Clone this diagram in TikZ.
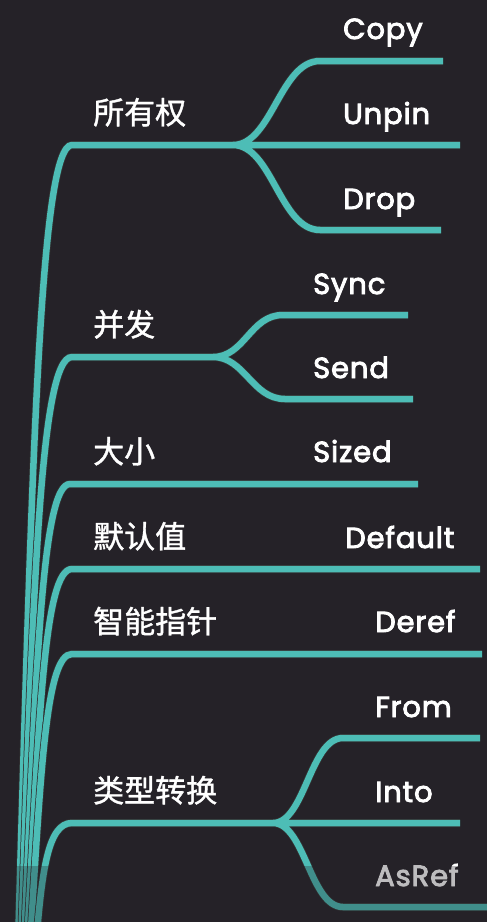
\documentclass[tikz,border=0pt]{standalone}
\usepackage{fontspec}
\setmainfont{Poppins}[FakeBold=3,LetterSpace=3]
\newfontfamily\cjk[FakeBold=1.2]{Noto Sans CJK SC}
\definecolor{bgdark}{HTML}{252228}
\definecolor{limbteal}{HTML}{4DBDB6}
\begin{document}
\begin{tikzpicture}[x=1pt,y=-1pt,
  limb/.style={limbteal,line width=6.5pt,preaction={draw=black!80,line width=8pt}},
  topic/.style={anchor=base west,inner sep=0,text=white,font=\cjk\fontsize{31}{31}\selectfont},
  leaf/.style={anchor=base west,inner sep=0,text=white,font=\fontsize{29}{29}\selectfont}]
\fill[bgdark] (0,0) rectangle (487,922);
\useasboundingbox (0,0) rectangle (487,922);
% corners and forks
\coordinate (own) at (72,145);
\coordinate (ownfork) at (233,145);
\coordinate (conc) at (72,357);
\coordinate (concfork) at (213,357);
\coordinate (size) at (70,484);
\coordinate (dflt) at (72,569);
\coordinate (smart) at (72,654);
\coordinate (conv) at (72,823);
\coordinate (convfork) at (273,823);
% branches
\draw[limb] (18,945) .. controls (32,463) and (40,145) .. (own) -- (ownfork) -- (460,145)
  (ownfork) .. controls (272,145) and (280,61) .. (320,61) -- (443,61)
  (ownfork) .. controls (272,145) and (280,230) .. (320,230) -- (441,230);
\draw[limb] (21,945) .. controls (33,592) and (40,357) .. (conc) -- (concfork)
  (concfork) .. controls (245,357) and (250,315) .. (283,315) -- (408,315)
  (concfork) .. controls (245,357) and (252,399) .. (285,399) -- (413,399);
\draw[limb] (24,945) .. controls (36,668) and (42,484) .. (size) -- (418,484);
\draw[limb] (27,945) .. controls (39,719) and (44,569) .. (dflt) -- (480,569);
\draw[limb] (30,945) .. controls (41,770) and (46,654) .. (smart) -- (482,654);
\draw[limb] (36,945) .. controls (42,870) and (48,823) .. (conv) -- (convfork) -- (460,823)
  (convfork) .. controls (305,823) and (310,738) .. (343,738) -- (480,738)
  (convfork) .. controls (305,823) and (310,907) .. (343,907) -- (495,907);
% labels
\node[topic] (ownlbl) at (93,124) {所有权};
\node[leaf] (copy) at (343,39) {Copy};
\node[leaf] (unpin) at (343,124) {Unpin};
\node[leaf] (drop) at (343,209) {Drop};
\node[topic] (conclbl) at (93,336) {并发};
\node[leaf] (sync) at (313,294) {Sync};
\node[leaf] (send) at (313,378) {Send};
\node[topic] (sizelbl) at (93,463) {大小};
\node[leaf] (sized) at (313,462) {Sized};
\node[topic] (dfltlbl) at (93,548) {默认值};
\node[leaf] (default) at (345,548) {Default};
\node[topic] (smartlbl) at (93,633) {智能指针};
\node[leaf] (deref) at (375,632) {Deref};
\node[topic] (convlbl) at (93,802) {类型转换};
\node[leaf] (from) at (375,717) {From};
\node[leaf] (into) at (375,802) {Into};
\node[leaf] (asref) at (375,886) {AsRef};
% faded strip at the bottom
\fill[bgdark,opacity=0.3] (0,866) rectangle (487,922);
\end{tikzpicture}
\end{document}
